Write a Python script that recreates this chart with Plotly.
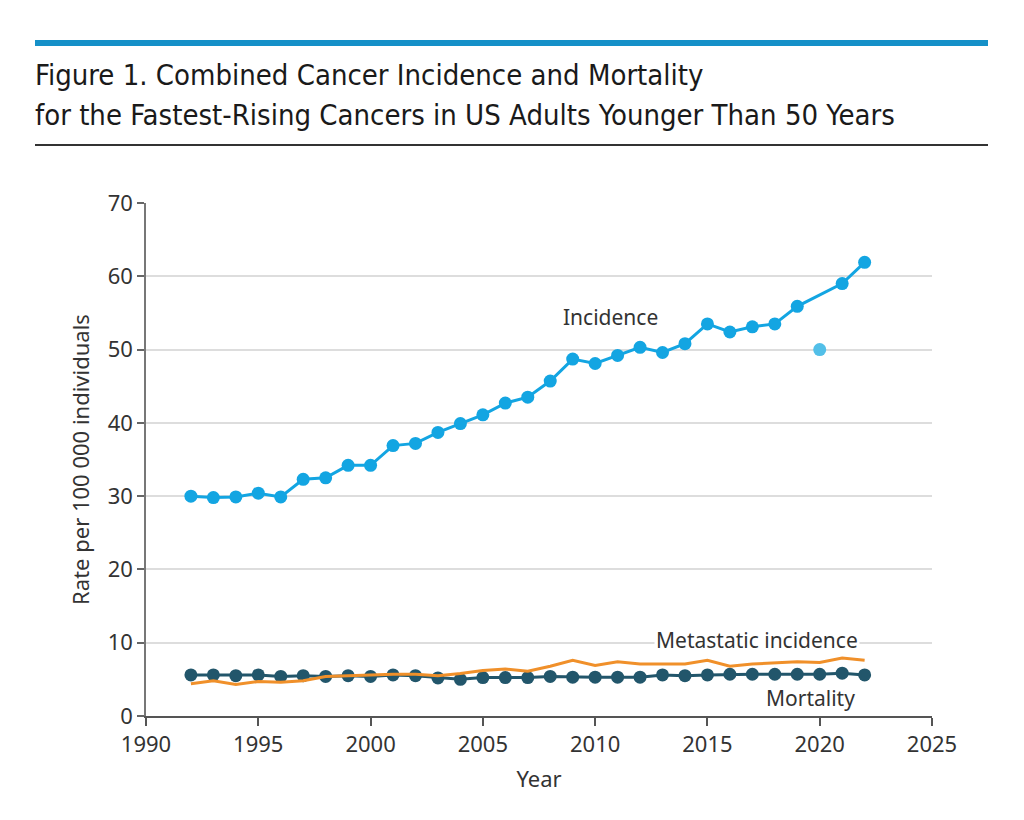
import plotly.graph_objects as go

years = list(range(1992, 2023))
incidence = [30.0, 29.8, 29.9, 30.4, 29.9, 32.3, 32.5, 34.2, 34.2, 36.9, 37.2,
             38.7, 39.9, 41.1, 42.7, 43.5, 45.7, 48.7, 48.1, 49.2, 50.3, 49.6,
             50.8, 53.5, 52.4, 53.1, 53.5, 55.9, 50.0, 59.0, 61.9]
metastatic = [4.4, 4.8, 4.3, 4.7, 4.6, 4.8, 5.4, 5.5, 5.5, 5.7, 5.7,
              5.5, 5.8, 6.2, 6.4, 6.1, 6.8, 7.6, 6.9, 7.4, 7.1, 7.1,
              7.1, 7.6, 6.8, 7.1, 7.3, 7.4, 7.3, 7.9, 7.6]
mortality = [5.6, 5.6, 5.5, 5.6, 5.4, 5.5, 5.4, 5.5, 5.4, 5.6, 5.5,
             5.2, 5.0, 5.25, 5.25, 5.25, 5.4, 5.3, 5.3, 5.3, 5.3, 5.6,
             5.5, 5.6, 5.7, 5.7, 5.7, 5.7, 5.7, 5.85, 5.6]
outlier_year = 2020

x_ticks = [1990, 1995, 2000, 2005, 2010, 2015, 2020, 2025]
y_ticks = [0, 10, 20, 30, 40, 50, 60, 70]

title_lines = ["Figure 1. Combined Cancer Incidence and Mortality",
               "for the Fastest-Rising Cancers in US Adults Younger Than 50 Years"]

C_INC = "#13a5e2"
C_INC_LIGHT = "#52bfe8"
C_MORT = "#22566b"
C_MET = "#f0902a"
TXT = "#333333"
FONT = "Noto Sans, Open Sans, DejaVu Sans, sans-serif"
TFONT = "Liberation Sans Narrow, DejaVu Sans Condensed, sans-serif"

W, H = 1024, 820
L, R, T, B = 146, 92, 203, 104
PW, PH = W - L - R, H - T - B

def px(xp):
    return (xp - L) / PW

def py(yp):
    return 1 - (yp - T) / PH

inc_x = [y for y in years if y != outlier_year]
inc_y = [v for y, v in zip(years, incidence) if y != outlier_year]
out_y = [v for y, v in zip(years, incidence) if y == outlier_year]

fig = go.Figure()
fig.add_trace(go.Scatter(x=years, y=mortality, mode="lines+markers",
                         line=dict(color=C_MORT, width=3),
                         marker=dict(color=C_MORT, size=13), cliponaxis=False))
fig.add_trace(go.Scatter(x=years, y=metastatic, mode="lines",
                         line=dict(color=C_MET, width=3), cliponaxis=False))
fig.add_trace(go.Scatter(x=inc_x, y=inc_y, mode="lines+markers",
                         line=dict(color=C_INC, width=3),
                         marker=dict(color=C_INC, size=13), cliponaxis=False))
fig.add_trace(go.Scatter(x=[outlier_year], y=out_y, mode="markers",
                         marker=dict(color=C_INC_LIGHT, size=13), cliponaxis=False))

shapes = [
    dict(type="rect", xref="paper", yref="paper", x0=px(35), x1=px(988),
         y0=py(46), y1=py(40), fillcolor="#1590c8", line=dict(width=0)),
    dict(type="line", xref="paper", yref="paper", x0=px(35), x1=px(988),
         y0=py(145), y1=py(145), line=dict(color="#333333", width=2)),
]

annotations = [
    dict(text=title_lines[0], xref="paper", yref="paper", x=px(33), y=py(75),
         xanchor="left", yanchor="middle", showarrow=False,
         font=dict(family=TFONT, size=29, color="#1a1a1a")),
    dict(text=title_lines[1], xref="paper", yref="paper", x=px(33), y=py(115),
         xanchor="left", yanchor="middle", showarrow=False,
         font=dict(family=TFONT, size=29, color="#1a1a1a")),
    dict(text="Incidence", x=2010.7, y=54.5, xref="x", yref="y", showarrow=False,
         font=dict(family=FONT, size=21, color=TXT)),
    dict(text="Metastatic incidence", x=2017.2, y=10.4, xref="x", yref="y",
         showarrow=False, bgcolor="white",
         font=dict(family=FONT, size=21, color=TXT)),
    dict(text="Mortality", x=2019.6, y=2.5, xref="x", yref="y", showarrow=False,
         font=dict(family=FONT, size=21, color=TXT)),
]

fig.update_layout(
    width=W, height=H, margin=dict(l=L, r=R, t=T, b=B),
    paper_bgcolor="white", plot_bgcolor="white", showlegend=False,
    shapes=shapes, annotations=annotations,
    font=dict(family=FONT, color=TXT),
)
fig.update_xaxes(range=[1990, 2025], tickvals=x_ticks, ticks="outside", ticklen=8,
                 tickcolor="#555555", tickwidth=1.5, showline=True, linecolor="#555555",
                 linewidth=1.5, showgrid=False, zeroline=False,
                 tickfont=dict(family=FONT, size=22, color=TXT),
                 title=dict(text="Year", font=dict(family=FONT, size=22, color=TXT), standoff=14))
fig.update_yaxes(range=[0, 70], tickvals=y_ticks, ticks="outside", ticklen=7,
                 tickcolor="#666666", tickwidth=1.5, showline=True, linecolor="#777777",
                 linewidth=1.5, showgrid=True, gridcolor="#dddddd", gridwidth=1.5,
                 zeroline=False,
                 tickfont=dict(family=FONT, size=22, color=TXT),
                 title=dict(text="Rate per 100 000 individuals",
                            font=dict(family=FONT, size=22, color=TXT), standoff=12))

fig.write_html("out.html", config={"displayModeBar": False},
               post_script="document.body.style.margin='0';")
